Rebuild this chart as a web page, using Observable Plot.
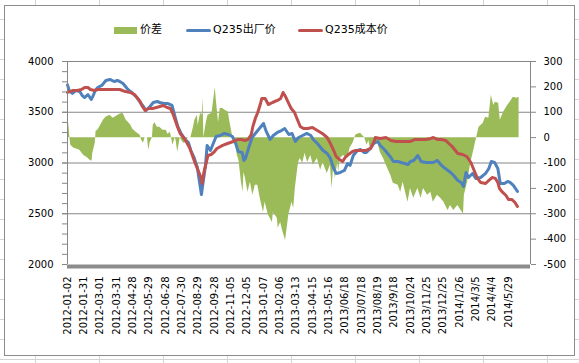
<!DOCTYPE html>
<html><head><meta charset="utf-8">
<script src="https://cdn.jsdelivr.net/npm/d3@7"></script>
<script src="https://cdn.jsdelivr.net/npm/@observablehq/plot@0.6"></script>
<style>
body{margin:0;background:#fff;}
#wrap{position:relative;width:579px;height:363px;overflow:hidden;font-family:"DejaVu Sans","Noto Sans CJK SC",sans-serif;
 background-color:#fff;
 background-image:repeating-linear-gradient(to right, transparent 0, transparent 35px, #d4d4d4 35px, #d4d4d4 36px, transparent 36px, transparent 64px),
 repeating-linear-gradient(to bottom, transparent 0, transparent 19px, #d4d4d4 19px, #d4d4d4 20px);}
#frame{position:absolute;left:4px;top:5px;width:569px;height:349px;border:1px solid #8c8c8c;background:#fff;}
#chart{position:absolute;left:0;top:0;}
.lg{position:absolute;font-size:11px;line-height:14px;top:23px;color:#000;font-family:"DejaVu Sans","Noto Sans CJK SC",sans-serif;}
.sw{position:absolute;}
</style></head>
<body>
<div id="wrap">
 <div id="frame"></div>
 <div class="sw" style="left:114px;top:27px;width:23px;height:7px;background:#9BBB59"></div>
 <div class="lg" style="left:140px">价差</div>
 <div class="sw" style="left:186px;top:29px;width:25px;height:3px;border-radius:2px;background:#4F81BD"></div>
 <div class="lg" style="left:213px">Q235出厂价</div>
 <div class="sw" style="left:298px;top:29px;width:25px;height:3px;border-radius:2px;background:#C0504D"></div>
 <div class="lg" style="left:325px">Q235成本价</div>
 <div id="chart"></div>
</div>
<script>
// x axis category labels (one every 20 trading days)
const dateLabels = ["2012-01-02","2012-01-31","2012-03-01","2012-03-31","2012-04-28","2012-05-29","2012-06-28","2012-07-30","2012-08-29","2012-09-28","2012-11-05","2012-12-05","2013-01-07","2013-02-06","2013-03-13","2013-04-15","2013-05-16","2013/06/18","2013/07/18","2013/08/19","2013/9/18","2013/10/24","2013/11/25","2013/12/25","2014/1/26","2014/3/5","2014/4/4","2014/5/29"];

// Q235出厂价 [day index, price]
const factoryPrice = [[0,3770],[2,3714],[6,3685],[10,3714],[15,3704],[18,3665],[21,3645],[25,3675],[29,3626],[31,3655],[34,3714],[37,3744],[42,3764],[47,3813],[52,3823],[57,3803],[61,3813],[64,3803],[68,3783],[73,3734],[77,3704],[80,3685],[85,3645],[89,3596],[93,3557],[96,3517],[101,3557],[105,3596],[110,3606],[113,3596],[118,3586],[123,3586],[128,3567],[132,3448],[135,3360],[139,3291],[144,3232],[148,3202],[151,3123],[155,3054],[159,2956],[161,2848],[164,2690],[166,2808],[169,2976],[171,3173],[175,3123],[179,3202],[182,3261],[187,3271],[192,3291],[197,3281],[202,3261],[206,3192],[209,3113],[214,3104],[216,3025],[218,3045],[222,3153],[226,3251],[230,3291],[233,3320],[237,3360],[240,3389],[243,3320],[248,3232],[252,3271],[257,3301],[262,3320],[266,3340],[271,3281],[275,3291],[279,3212],[283,3251],[288,3271],[293,3291],[298,3271],[301,3232],[306,3192],[310,3153],[313,3123],[318,3094],[322,3045],[326,2946],[329,2897],[334,2907],[339,2926],[343,2995],[346,2976],[350,3074],[355,3123],[359,3133],[363,3104],[366,3104],[371,3143],[375,3192],[380,3212],[383,3173],[388,3133],[392,3094],[396,3054],[399,3015],[405,3015],[408,3005],[413,2995],[417,2985],[420,3015],[424,3025],[429,3074],[433,3015],[439,3005],[445,3005],[448,3005],[453,3025],[457,2985],[461,2956],[466,2926],[469,2907],[473,2877],[478,2828],[482,2808],[485,2769],[488,2907],[491,2857],[496,2897],[500,2848],[506,2857],[512,2897],[516,2946],[519,3015],[523,3005],[527,2946],[530,2798],[535,2798],[539,2818],[542,2808],[546,2779],[551,2720]];

// Q235成本价 [day index, cost]
const costPrice = [[0,3695],[3,3704],[7,3714],[12,3714],[17,3724],[21,3744],[25,3744],[28,3724],[33,3714],[37,3724],[44,3724],[48,3724],[55,3724],[60,3724],[64,3724],[71,3704],[77,3695],[82,3675],[85,3645],[89,3606],[91,3567],[95,3517],[99,3537],[104,3537],[109,3547],[113,3557],[117,3567],[122,3547],[126,3537],[129,3488],[132,3419],[135,3350],[138,3291],[143,3242],[146,3202],[150,3143],[153,3074],[156,3005],[159,2946],[163,2867],[165,2798],[167,2907],[170,3005],[172,3074],[176,3084],[179,3104],[183,3143],[190,3173],[196,3192],[203,3212],[209,3232],[213,3232],[217,3222],[221,3232],[225,3281],[227,3360],[230,3439],[233,3498],[236,3576],[238,3636],[242,3636],[246,3576],[251,3596],[257,3616],[261,3636],[264,3695],[267,3655],[271,3586],[274,3537],[278,3498],[282,3419],[285,3360],[289,3340],[294,3340],[300,3350],[306,3320],[312,3291],[318,3251],[322,3192],[326,3123],[329,3064],[333,3035],[337,3015],[340,3054],[344,3084],[349,3113],[353,3123],[359,3123],[365,3123],[371,3143],[375,3202],[377,3251],[383,3242],[390,3251],[396,3222],[402,3212],[408,3212],[414,3212],[420,3212],[426,3232],[433,3232],[439,3232],[445,3242],[448,3251],[453,3232],[458,3232],[463,3222],[467,3192],[471,3163],[474,3133],[478,3094],[484,3084],[489,3064],[494,3005],[497,2946],[500,2887],[502,2848],[506,2808],[512,2798],[516,2828],[520,2857],[524,2848],[527,2808],[529,2749],[533,2710],[537,2680],[540,2641],[544,2641],[548,2611],[551,2572]];

// 价差 [day index, spread] (right axis)
const spread = [[0,0],[1,68],[2,37],[3,0],[4,-30],[8,-42],[12,-46],[15,-50],[20,-70],[24,-78],[28,-90],[30,-93],[31,-62],[34,-22],[35,25],[37,29],[40,45],[44,68],[47,80],[52,88],[56,76],[60,84],[64,92],[68,96],[72,68],[77,52],[80,33],[84,21],[89,9],[91,-11],[93,-22],[95,0],[98,0],[99,-34],[100,-50],[101,-22],[104,0],[105,48],[107,60],[110,41],[113,41],[117,29],[121,29],[123,13],[126,21],[128,-11],[129,-30],[132,0],[133,-11],[135,-58],[138,0],[142,-22],[145,-19],[148,0],[151,0],[154,37],[156,68],[159,88],[160,48],[163,96],[165,88],[166,155],[167,0],[170,60],[172,88],[177,96],[179,147],[181,198],[182,155],[185,60],[187,115],[190,115],[193,108],[197,100],[199,60],[202,9],[206,-11],[208,-70],[210,-90],[213,-176],[215,-215],[216,-137],[218,-161],[221,-215],[224,-176],[227,-227],[230,-188],[233,-188],[236,-239],[240,-295],[242,-255],[246,-305],[251,-334],[252,-295],[257,-318],[258,-357],[261,-334],[264,-373],[267,-405],[269,-357],[271,-305],[273,-279],[275,-255],[277,-279],[279,-200],[282,-121],[283,-98],[285,-82],[288,-101],[291,-62],[294,-98],[298,-70],[301,-109],[306,-82],[310,-129],[313,-98],[318,-141],[322,-109],[324,-200],[326,-109],[328,-161],[331,-98],[332,-137],[334,-82],[338,-70],[343,-82],[346,-42],[350,-19],[353,9],[355,13],[359,17],[361,9],[364,0],[365,-11],[367,-30],[369,-11],[371,-42],[374,-34],[375,-11],[380,-19],[383,-58],[387,-82],[392,-121],[396,-149],[399,-180],[405,-188],[408,-215],[411,-176],[417,-255],[420,-200],[424,-239],[429,-200],[433,-239],[436,-200],[441,-227],[445,-215],[448,-255],[453,-227],[457,-239],[461,-255],[466,-287],[469,-267],[473,-287],[478,-267],[482,-287],[485,-302],[486,-227],[490,-176],[494,-98],[497,-58],[501,0],[504,41],[509,56],[512,80],[516,76],[519,167],[522,127],[524,139],[528,135],[530,68],[534,100],[539,127],[542,139],[546,159],[550,155],[553,159]];

const leftTicks = [2000,2500,3000,3500,4000];
const rightTicks = [-500,-400,-300,-200,-100,0,100,200,300];

// right axis maps onto left: -500 -> 2000, 300 -> 4000
const toLeft = r => 3250 + r * 2.5;
const toRight = l => String(Math.round((l - 3250) / 2.5));

const fp = factoryPrice.map(([i, v]) => ({i, v}));
const cp = costPrice.map(([i, v]) => ({i, v}));
const sp = spread.map(([i, v]) => ({i, v}));
const grid = "#868686";

const chart = Plot.plot({
  width: 579, height: 363,
  marginLeft: 67, marginRight: 49, marginTop: 61, marginBottom: 99,
  x: {domain: [0, 567]},
  y: {domain: [2000, 4000]},
  style: {background: "transparent", fontFamily: "DejaVu Sans, sans-serif", fontSize: "10px", color: "#000"},
  marks: [
    Plot.ruleY(leftTicks.slice(1), {stroke: grid, strokeWidth: 1}),
    Plot.areaY(sp, {x: "i", y1: () => 3250, y2: d => toLeft(d.v), fill: "#9BBB59"}),
    Plot.line(fp, {x: "i", y: "v", stroke: "#4F81BD", strokeWidth: 3, strokeLinejoin: "round", strokeLinecap: "round"}),
    Plot.line(cp, {x: "i", y: "v", stroke: "#C0504D", strokeWidth: 3, strokeLinejoin: "round", strokeLinecap: "round"}),
    Plot.ruleX([0, 567], {stroke: grid}),
    Plot.axisY(d3.range(2000, 4001, 100), {anchor: "left", tickSize: 5, stroke: grid, tickFormat: () => "", label: null}),
    Plot.axisY(leftTicks, {anchor: "left", tickSize: 5, tickPadding: 9, stroke: grid, fill: "#000", tickFormat: d => String(d), label: null}),
    Plot.axisY(rightTicks.map(toLeft), {anchor: "right", tickSize: 5, tickPadding: 8, stroke: grid, fill: "#000", tickFormat: toRight, label: null}),
    Plot.ruleY([2000], {stroke: "#8c8c8c", strokeWidth: 4, dy: 2}),
    Plot.axisX(d3.range(0, 541, 20), {tickSize: 0, tickPadding: 12, tickRotate: -90, fill: "#000", tickFormat: i => dateLabels[i / 20], label: null})
  ]
});
document.getElementById("chart").appendChild(chart);
</script>
</body></html>
